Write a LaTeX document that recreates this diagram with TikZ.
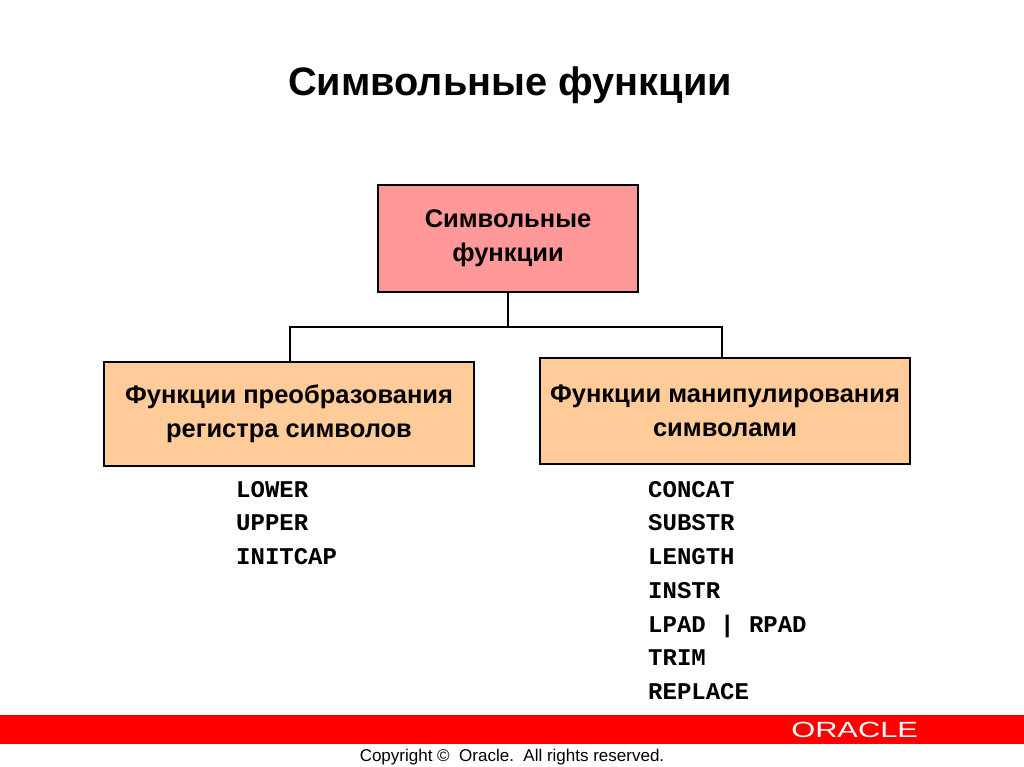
\documentclass[tikz,border=0pt]{standalone}
\usepackage{fontspec}
\setmainfont{Liberation Sans}
\newfontfamily\monob{Liberation Mono}
\begin{document}
\begin{tikzpicture}[x=1pt,y=-1pt,
  boxst/.style={draw=black,line width=2pt,align=center,font=\fontsize{25.5}{34}\selectfont\bfseries},
  code/.style={anchor=base west,font=\monob\fontsize{24}{24}\selectfont\bfseries,inner sep=0pt},
  link/.style={line width=2pt}]
\useasboundingbox (0,0) rectangle (1024,767);
\fill[white] (0,0) rectangle (1024,767);
\node[font=\fontsize{39.7}{40}\selectfont\bfseries] (title) at (510,85) {Символьные функции};
\node[boxst,fill={rgb,255:red,255;green,153;blue,153},minimum width=260,minimum height=107] (top) at (508,238.5) {Символьные\\функции};
\node[boxst,fill={rgb,255:red,255;green,204;blue,153},minimum width=370,minimum height=104] (left) at (289,414) {Функции преобразования\\регистра символов};
\node[boxst,fill={rgb,255:red,255;green,204;blue,153},minimum width=370,minimum height=106] (right) at (725,411) {Функции манипулирования\\символами};
\coordinate (j) at (508,327);
\draw[link] (top.south) -- (j);
\draw[link] (left.north -| 290,0) |- (j) -| (right.north -| 722,0);
\node[code] (l1) at (236,497) {LOWER};
\node[code] (l2) at (236,530) {UPPER};
\node[code] (l3) at (236,564) {INITCAP};
\node[code] (r1) at (648,497) {CONCAT};
\node[code] (r2) at (648,530) {SUBSTR};
\node[code] (r3) at (648,564) {LENGTH};
\node[code] (r4) at (648,598) {INSTR};
\node[code] (r5) at (648,632) {LPAD | RPAD};
\node[code] (r6) at (648,665) {TRIM};
\node[code] (r7) at (648,699) {REPLACE};
\fill[red] (0,715) rectangle (1024,744);
\node[text=white,font=\fontsize{22}{22}\selectfont,anchor=west,xscale=1.4,inner sep=0pt] (logo) at (791,730) {ORACLE};
\node[font=\fontsize{17}{17}\selectfont] (copy) at (512,757) {Copyright \textcopyright{}\ \ Oracle.\ \ All rights reserved.};
\end{tikzpicture}
\end{document}
